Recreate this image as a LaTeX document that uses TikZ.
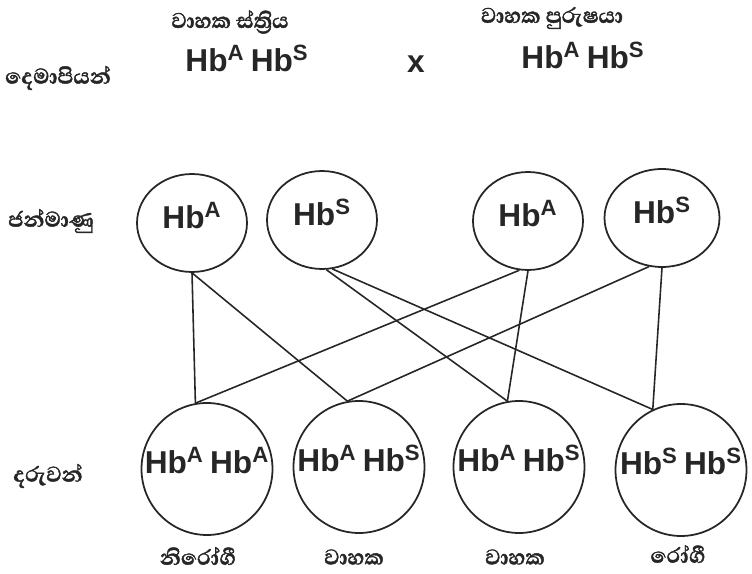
\documentclass[tikz,border=0pt]{standalone}
\usepackage{fontspec}
\setmainfont{Liberation Sans}
\newfontfamily\sinhalafont[Script=Sinhala, FakeBold=1.5]{Abhaya Libre}
\usetikzlibrary{shapes.geometric}
\newcommand\hbsup[1]{Hb\textsuperscript{#1}}
\newcommand\genotype[2]{\makebox[0pt]{\hbsup{#1}\hspace{0.2em}\hbsup{#2}}}
\colorlet{ink}{black!85}
\tikzset{
  gamete/.style={draw=ink, text=ink, ellipse, line width=1pt, minimum width=2.2cm, minimum height=1.96cm,
    inner sep=0pt, font=\fontsize{18}{20}\selectfont\bfseries, text height=12pt, text depth=6pt},
  child/.style={draw=ink, text=ink, ellipse, line width=1pt, minimum width=2.62cm, minimum height=2.64cm,
    inner sep=0pt, font=\fontsize{18}{20}\selectfont\bfseries, text height=10pt, text depth=5pt},
  parent/.style={text=ink, font=\fontsize{18}{20}\selectfont\bfseries},
  sinlabel/.style={text=ink, font=\sinhalafont\bfseries\fontsize{15.5}{17}\selectfont},
  link/.style={draw=ink, line width=0.9pt}
}
\begin{document}
\begin{tikzpicture}[x=0.02cm, y=-0.02cm]
\useasboundingbox (0,0) rectangle (752,574);
% parents
\node[sinlabel] (wife) at (230,22) {වාහක ස්ත්^^^^200dරිය};
\node[sinlabel] (husband) at (552,18) {වාහක පුරුෂයා};
\node[sinlabel] (lparents) at (58,78) {දෙමාපියන්};
\node[parent] (mother) at (247,58) {\genotype{A}{S}};
\node[parent] (cross) at (416,64) {x};
\node[parent] (father) at (583,55) {\genotype{A}{S}};
% gametes
\node[sinlabel] (lgametes) at (51,221) {ජන්මාණු};
\node[gamete] (G1) at (192,223) {\hbsup{A}};
\node[gamete] (G2) at (322,220) {\hbsup{S}};
\node[gamete] (G3) at (528,221) {\hbsup{A}};
\node[gamete, minimum width=2.3cm] (G4) at (662,218) {\hbsup{S}};
% children
\node[sinlabel] (lchildren) at (48,476) {දරුවන්};
\node[child] (C1) at (207,469) {\genotype{A}{A}};
\node[child] (C2) at (359,467) {\genotype{A}{S}};
\node[child] (C3) at (519,467) {\genotype{A}{S}};
\node[child] (C4) at (681,470) {\genotype{S}{S}};
\node[sinlabel] (h1) at (198,556) {නිරෝගී};
\node[sinlabel] (h2) at (354,557) {වාහක};
\node[sinlabel] (h3) at (515,557) {වාහක};
\node[sinlabel] (h4) at (678,554) {රෝගී};
% crosses
\draw[link] (G1.south) -- (C1.100);
\draw[link] (G1.south) -- (C2.100);
\draw[link] (G2.-85) -- (C3.100);
\draw[link] (G2.-78) -- (C4.115);
\draw[link] (G3.-100) -- (C1.100);
\draw[link] (G3.south) -- (C3.100);
\draw[link] (G4.-105) -- (C2.100);
\draw[link] (G4.south) -- (C4.115);
\end{tikzpicture}
\end{document}
